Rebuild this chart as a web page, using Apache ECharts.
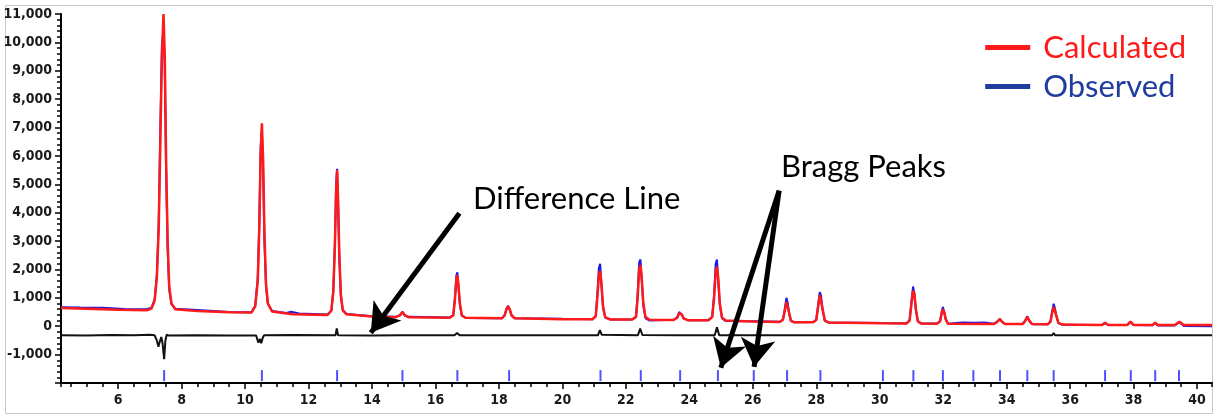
<!DOCTYPE html>
<html>
<head>
<meta charset="utf-8">
<script src="https://cdn.jsdelivr.net/npm/echarts@6/dist/echarts.min.js"></script>
<style>
  html, body { margin: 0; padding: 0; background: #fff; }
  #main { width: 1216px; height: 417px; }
</style>
</head>
<body>
<div id="main"></div>
<script>
// profile points: [2theta, counts]
var calculated = [
  [4.2, 640], [5.0, 620], [6.0, 580], [6.9, 560], [7.05, 620], [7.15, 900], [7.22, 1700], [7.28, 3500], [7.33, 6500],
  [7.38, 9500], [7.43, 11000], [7.47, 9500], [7.51, 6000], [7.56, 3000], [7.61, 1400], [7.68, 800], [7.8, 600],
  [8.5, 540], [9.5, 490], [10.2, 480], [10.32, 700], [10.4, 1600], [10.45, 3500], [10.49, 6000], [10.53, 7150],
  [10.57, 5800], [10.61, 3300], [10.66, 1500], [10.72, 800], [10.85, 520],
  [11.5, 420], [12.6, 400], [12.72, 550], [12.78, 1200], [12.83, 2800], [12.87, 4800], [12.9, 5500], [12.93, 4500],
  [12.97, 2500], [13.02, 1100], [13.08, 560], [13.2, 420],
  [14.0, 340], [14.75, 320], [14.88, 380], [14.96, 500], [15.04, 380], [15.15, 320],
  [16.45, 300], [16.56, 380], [16.61, 900], [16.66, 1650], [16.69, 1800], [16.72, 1500], [16.77, 800], [16.83, 380], [16.95, 300],
  [18.1, 280], [18.18, 380], [18.24, 600], [18.29, 700], [18.34, 600], [18.4, 380], [18.5, 280],
  [20.0, 250], [20.95, 245], [21.05, 350], [21.1, 1000], [21.15, 1800], [21.19, 1950], [21.23, 1500], [21.28, 700], [21.35, 320], [21.5, 240],
  [22.2, 235], [22.32, 330], [22.37, 1000], [22.42, 2000], [22.46, 2150], [22.5, 1700], [22.55, 800], [22.62, 320], [22.75, 230],
  [23.5, 220], [23.62, 300], [23.68, 460], [23.72, 500], [23.76, 420], [23.82, 280], [23.95, 215],
  [24.6, 210], [24.72, 320], [24.78, 1000], [24.83, 1900], [24.87, 2100], [24.91, 1700], [24.96, 800], [25.03, 300], [25.15, 200],
  [26.0, 170], [26.85, 150], [26.95, 230], [27.0, 500], [27.06, 850], [27.1, 800], [27.15, 450], [27.2, 200], [27.3, 140],
  [27.9, 140], [28.0, 220], [28.06, 700], [28.11, 1100], [28.15, 1050], [28.2, 600], [28.27, 200], [28.4, 130],
  [30.1, 105], [30.85, 100], [30.94, 200], [31.0, 800], [31.05, 1250], [31.09, 1150], [31.14, 600], [31.2, 180], [31.3, 100],
  [31.8, 90], [31.9, 170], [31.95, 450], [31.99, 600], [32.03, 500], [32.08, 250], [32.15, 90],
  [33.6, 80], [33.7, 150], [33.78, 250], [33.86, 150], [33.95, 75],
  [34.5, 75], [34.58, 180], [34.65, 330], [34.72, 180], [34.8, 75],
  [35.3, 70], [35.38, 160], [35.43, 450], [35.48, 680], [35.52, 620], [35.57, 350], [35.63, 120], [35.75, 60],
  [37.0, 45], [37.1, 120], [37.2, 45], [37.8, 45], [37.9, 160], [38.0, 45], [38.6, 45], [38.68, 120], [38.76, 45],
  [39.3, 45], [39.44, 160], [39.58, 45], [40.47, 40]
];

var observed = [
  [4.2, 670], [4.8, 660], [5.5, 650], [6.2, 610], [6.9, 600], [7.05, 650], [7.15, 950], [7.22, 1800], [7.28, 3700], [7.33, 7000],
  [7.38, 9900], [7.43, 10400], [7.47, 9200], [7.51, 5600], [7.56, 2700], [7.61, 1300], [7.68, 780], [7.8, 620],
  [8.5, 570], [9.5, 500], [10.2, 490], [10.32, 720], [10.4, 1700], [10.45, 3700], [10.49, 6300], [10.53, 6900],
  [10.57, 5400], [10.61, 3000], [10.66, 1400], [10.72, 780], [10.85, 540],
  [11.3, 470], [11.45, 510], [11.7, 450], [12.6, 410], [12.72, 560], [12.78, 1250], [12.83, 2900], [12.87, 5000], [12.9, 5550], [12.93, 4400],
  [12.97, 2400], [13.02, 1050], [13.08, 560], [13.2, 430],
  [14.0, 350], [14.75, 330], [14.88, 390], [14.96, 510], [15.04, 370], [15.15, 330],
  [16.45, 310], [16.56, 390], [16.61, 950], [16.66, 1800], [16.69, 1900], [16.72, 1450], [16.77, 760], [16.83, 370], [16.95, 290],
  [18.1, 285], [18.18, 390], [18.24, 620], [18.29, 720], [18.34, 580], [18.4, 370], [18.5, 280],
  [20.0, 260], [20.95, 250], [21.05, 360], [21.1, 1100], [21.15, 2050], [21.19, 2200], [21.23, 1450], [21.28, 650], [21.35, 300], [21.5, 240],
  [22.2, 240], [22.32, 340], [22.37, 1100], [22.42, 2250], [22.46, 2350], [22.5, 1600], [22.55, 720], [22.62, 280], [22.75, 200],
  [23.5, 225], [23.62, 310], [23.68, 500], [23.72, 530], [23.76, 400], [23.82, 270], [23.95, 215],
  [24.6, 215], [24.72, 330], [24.78, 1100], [24.83, 2200], [24.87, 2350], [24.91, 1600], [24.96, 760], [25.03, 280], [25.15, 180],
  [26.0, 175], [26.85, 155], [26.95, 240], [27.0, 560], [27.06, 1000], [27.1, 820], [27.15, 420], [27.2, 190], [27.3, 140],
  [27.9, 145], [28.0, 230], [28.06, 760], [28.11, 1200], [28.15, 1080], [28.2, 570], [28.27, 190], [28.4, 130],
  [30.1, 110], [30.85, 105], [30.94, 210], [31.0, 880], [31.05, 1400], [31.09, 1150], [31.14, 560], [31.2, 170], [31.3, 100],
  [31.8, 95], [31.9, 180], [31.95, 490], [31.99, 680], [32.03, 500], [32.08, 240], [32.15, 90],
  [32.6, 130], [33.0, 120], [33.3, 130], [33.6, 90], [33.7, 160], [33.78, 260], [33.86, 150], [33.95, 80],
  [34.5, 80], [34.58, 190], [34.65, 350], [34.72, 180], [34.8, 70],
  [35.3, 70], [35.38, 170], [35.43, 500], [35.48, 790], [35.52, 640], [35.57, 340], [35.63, 110], [35.75, 55],
  [37.0, 40], [37.1, 110], [37.2, 40], [37.8, 40], [37.9, 150], [38.0, 40], [38.6, 35], [38.68, 110], [38.76, 30],
  [39.3, 30], [39.44, 150], [39.58, 10], [40.47, 0]
];

var difference = [
  [4.2, -320], [5.0, -330], [5.8, -310], [6.5, -320], [7.0, -300], [7.15, -320], [7.22, -500], [7.27, -720], [7.31, -550],
  [7.36, -380], [7.4, -600], [7.45, -1160], [7.49, -500], [7.53, -300], [7.6, -330],
  [8.5, -320], [9.5, -330], [10.35, -330], [10.42, -580], [10.47, -450], [10.51, -600], [10.56, -400], [10.6, -320],
  [11.5, -310], [12.85, -320], [12.89, -80], [12.93, -320], [14.0, -330], [14.9, -320], [14.96, -290], [15.02, -320],
  [16.6, -320], [16.68, -240], [16.76, -320], [18.25, -320], [18.3, -270], [18.35, -320],
  [21.12, -320], [21.18, -140], [21.24, -300], [22.38, -320], [22.45, -80], [22.52, -310],
  [23.65, -320], [23.7, -280], [23.75, -320], [24.8, -320], [24.87, -40], [24.94, -320],
  [27.0, -320], [27.05, -250], [27.1, -320], [28.05, -320], [28.1, -270], [28.15, -320],
  [31.0, -320], [31.05, -270], [31.1, -320], [34.6, -320], [34.65, -250], [34.7, -320],
  [35.43, -320], [35.48, -240], [35.53, -320], [40.47, -320]
];

var braggPeaks = [7.45, 10.53, 12.9, 14.96, 16.69, 18.32, 21.2, 22.47, 23.71, 24.9, 26.03, 27.08, 28.13,
  30.1, 31.06, 31.99, 32.95, 33.79, 34.65, 35.48, 37.1, 37.91, 38.68, 39.43];
var braggLevel = -1740;

var yTicks = { min: -2000, max: 11000, step: 1000 };
var xRange = [4.2, 40.47];

// annotation arrows in data coordinates: [from, tip]
var arrows = [
  [[16.755, 3978], [13.963, -228]],
  [[26.829, 4775], [24.992, -1460]],
  [[26.829, 4775], [26.041, -1430]]
];

var axisFont = "'Liberation Sans Narrow', 'Arial Narrow', 'DejaVu Sans Condensed', sans-serif";
var noteFont = "Lato, 'Open Sans', sans-serif";

var chart = echarts.init(document.getElementById('main'));
chart.setOption({
  animation: false,
  backgroundColor: '#fff',
  grid: { left: 61, right: 4, top: 14, bottom: 34, containLabel: false },
  legend: {
    orient: 'vertical', right: 25, top: 27, itemWidth: 45, itemHeight: 5, itemGap: 8, icon: 'rect',
    textStyle: { fontFamily: noteFont, fontSize: 31, padding: [0, 0, 0, 8] },
    selectedMode: false,
    data: [
      { name: 'Calculated', itemStyle: { color: '#ff1a1a' }, textStyle: { color: '#ff1a1a' } },
      { name: 'Observed', itemStyle: { color: '#1f3c9e' }, textStyle: { color: '#1f3c9e' } }
    ]
  },
  xAxis: [
    {
      type: 'value', min: xRange[0], max: xRange[1], splitNumber: 18, minInterval: 2, maxInterval: 2,
      position: 'bottom',
      axisLine: { onZero: false, lineStyle: { color: '#000', width: 2 } },
      axisTick: { length: 6, lineStyle: { color: '#000', width: 1.5 } },
      axisLabel: {
        showMinLabel: false, showMaxLabel: false, margin: 10,
        fontFamily: axisFont, fontWeight: 'bold', fontSize: 14, color: '#1a1a1a'
      },
      splitLine: { show: false }
    },
    {
      // half-degree minor ticks
      type: 'value', min: xRange[0], max: xRange[1], splitNumber: 72, minInterval: 0.5, maxInterval: 0.5,
      position: 'bottom',
      axisLine: { show: false, onZero: false },
      axisTick: { show: true, length: 4, lineStyle: { color: '#000', width: 1.5 } },
      axisLabel: { show: false },
      splitLine: { show: false }
    }
  ],
  yAxis: {
    type: 'value', min: yTicks.min, max: yTicks.max, interval: yTicks.step,
    axisLine: { show: true, onZero: false, lineStyle: { color: '#000', width: 2 } },
    axisTick: { show: true, length: 6, lineStyle: { color: '#000', width: 1.5 } },
    minorTick: { show: true, splitNumber: 5, length: 4, lineStyle: { color: '#000', width: 1.5 } },
    axisLabel: {
      margin: 9, fontFamily: axisFont, fontWeight: 'bold', fontSize: 14, color: '#1a1a1a',
      formatter: function (v) { return v === yTicks.min ? '' : v.toLocaleString('en-US'); }
    },
    splitLine: { show: false }
  },
  series: [
    {
      name: 'Observed', type: 'line', data: observed, showSymbol: false, symbol: 'none',
      lineStyle: { color: '#1a1ae6', width: 2 }, itemStyle: { color: '#1a1ae6' }
    },
    {
      name: 'Calculated', type: 'line', data: calculated, showSymbol: false, symbol: 'none',
      lineStyle: { color: '#ff1a1a', width: 2.5 }, itemStyle: { color: '#ff1a1a' }
    },
    {
      name: 'Difference', type: 'line', data: difference, showSymbol: false, symbol: 'none',
      lineStyle: { color: '#111', width: 2 }, itemStyle: { color: '#111' },
      markLine: {
        silent: true, symbol: ['none', 'arrow'], symbolSize: [26, 28],
        lineStyle: { color: '#000', width: 5, type: 'solid' },
        label: { show: false },
        data: arrows.map(function (a) { return [{ coord: a[0] }, { coord: a[1] }]; })
      }
    },
    {
      name: 'Bragg', type: 'scatter', symbol: 'rect', symbolSize: [2, 11],
      itemStyle: { color: '#2424ff' },
      data: braggPeaks.map(function (x) { return [x, braggLevel]; })
    }
  ],
  graphic: [
    { type: 'rect', shape: { x: 5.5, y: 5.5, width: 1207, height: 408 }, style: { fill: 'none', stroke: '#c8c8c8', lineWidth: 1 }, silent: true, z: -1 },
    { type: 'text', left: 473, top: 183, style: { text: 'Difference Line', font: '31px ' + noteFont, fill: '#000' } },
    { type: 'text', left: 781, top: 151, style: { text: 'Bragg Peaks', font: '31px ' + noteFont, fill: '#000' } }
  ]
});
</script>
</body>
</html>
